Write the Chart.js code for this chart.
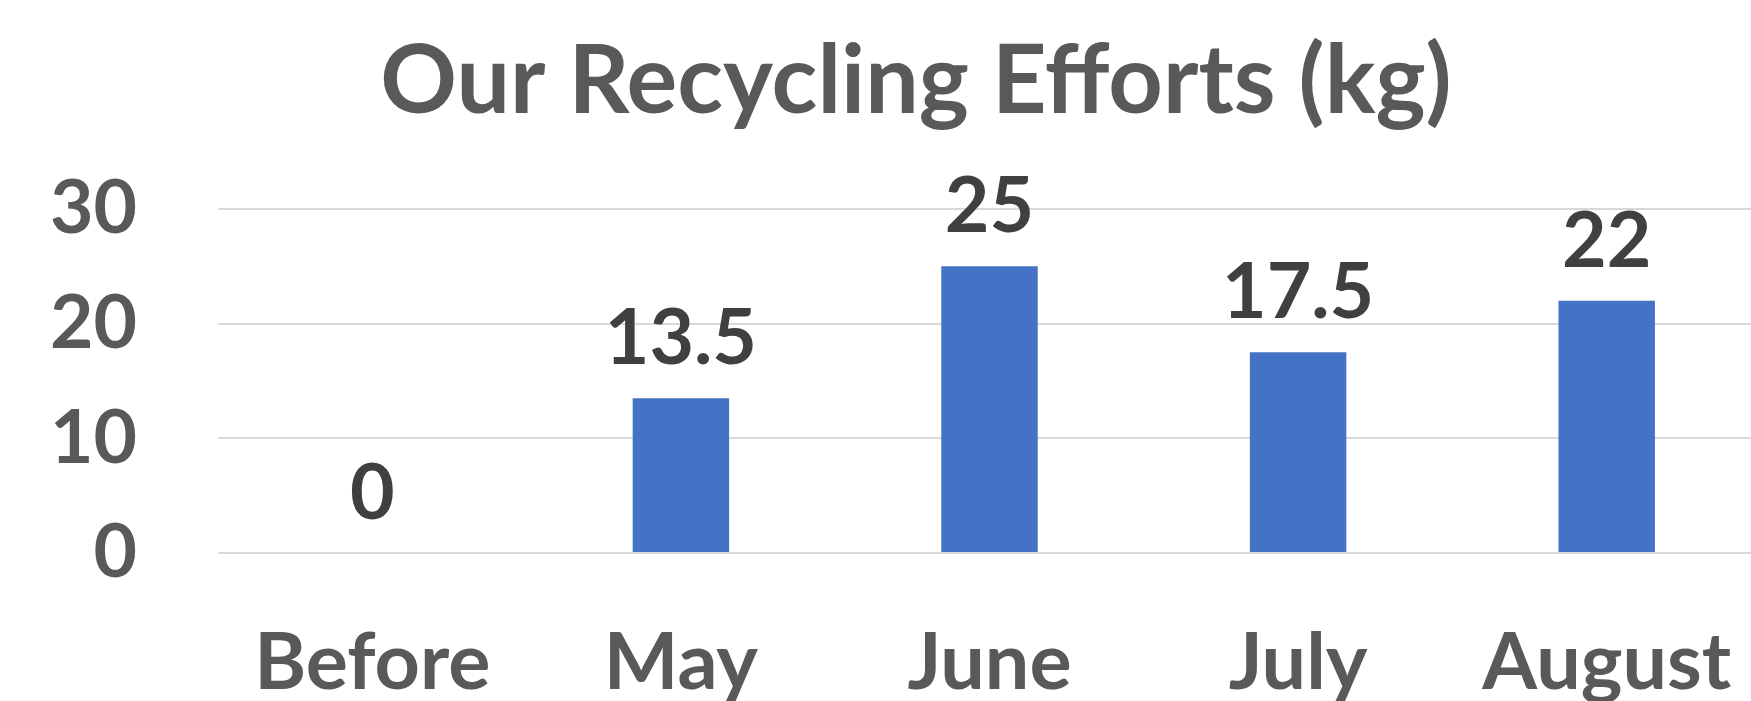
<!DOCTYPE html>
<html>
<head>
<meta charset="utf-8">
<title>Our Recycling Efforts (kg)</title>
<script src="https://cdn.jsdelivr.net/npm/chart.js@4.4.0/dist/chart.umd.min.js"></script>
<style>
    html, body { margin: 0; padding: 0; background: #ffffff; overflow: hidden; }
    .chart-box { position: relative; width: 1761px; height: 701px; }
</style>
</head>
<body>
<div class="chart-box">
    <canvas id="recyclingChart"></canvas>
</div>
<script>
// CHART DATA
const chartTitle = 'Our Recycling Efforts (kg)';
const months = ['Before', 'May', 'June', 'July', 'August'];
const recycledKg = [0, 13.5, 25, 17.5, 22];
const yTicks = [0, 10, 20, 30];

const FONT = 'Lato, "Open Sans", sans-serif';
const AXIS_GREY = '#595959';
const LABEL_DARK = '#404040';

// TITLE, CATEGORY LABELS AND VALUE LABELS
const textPlugin = {
    id: 'textPlugin',
    afterDraw(chart) {
        const ctx = chart.ctx;
        const area = chart.chartArea;
        const xScale = chart.scales.x;

        ctx.save();
        ctx.textAlign = 'center';
        ctx.textBaseline = 'alphabetic';

        // title
        ctx.fillStyle = AXIS_GREY;
        ctx.font = 'bold 95px ' + FONT;
        ctx.fillText(chartTitle, 916, 113);

        // category labels
        ctx.font = 'bold 79px ' + FONT;
        months.forEach((m, i) => {
            ctx.fillText(m, xScale.getPixelForValue(i), area.bottom + 136);
        });

        // value labels
        ctx.fillStyle = LABEL_DARK;
        ctx.font = 'bold 77px ' + FONT;
        const meta = chart.getDatasetMeta(0);
        meta.data.forEach((bar, i) => {
            ctx.fillText(String(recycledKg[i]), bar.x, bar.y - 34);
        });
        ctx.restore();
    }
};

function setupRecyclingChart() {
    const ctx = document.getElementById('recyclingChart').getContext('2d');

    new Chart(ctx, {
        type: 'bar',
        data: {
            labels: months,
            datasets: [{
                label: 'Recycled (kg)',
                data: recycledKg,
                backgroundColor: '#4472C4',
                borderWidth: 0,
                barPercentage: 0.3125,
                categoryPercentage: 1
            }]
        },
        options: {
            responsive: true,
            maintainAspectRatio: false,
            animation: false,
            layout: {
                padding: { top: 209, right: 0, bottom: 0, left: 0 }
            },
            plugins: {
                legend: { display: false },
                title: { display: false },
                tooltip: { enabled: false }
            },
            scales: {
                x: {
                    grid: { display: false },
                    border: { display: false },
                    ticks: { display: false },
                    afterFit: (scale) => { scale.height = 148; }
                },
                y: {
                    min: 0,
                    max: 30,
                    afterBuildTicks: (scale) => {
                        scale.ticks = yTicks.map(v => ({ value: v }));
                    },
                    afterFit: (scale) => { scale.width = 218; },
                    grid: { color: '#D9D9D9', lineWidth: 2, drawTicks: false },
                    border: { display: false },
                    ticks: {
                        color: AXIS_GREY,
                        padding: 81,
                        font: { family: FONT, size: 75, weight: 'bold' }
                    }
                }
            }
        },
        plugins: [textPlugin]
    });
}

document.addEventListener('DOMContentLoaded', () => {
    setupRecyclingChart();
});
</script>
</body>
</html>
